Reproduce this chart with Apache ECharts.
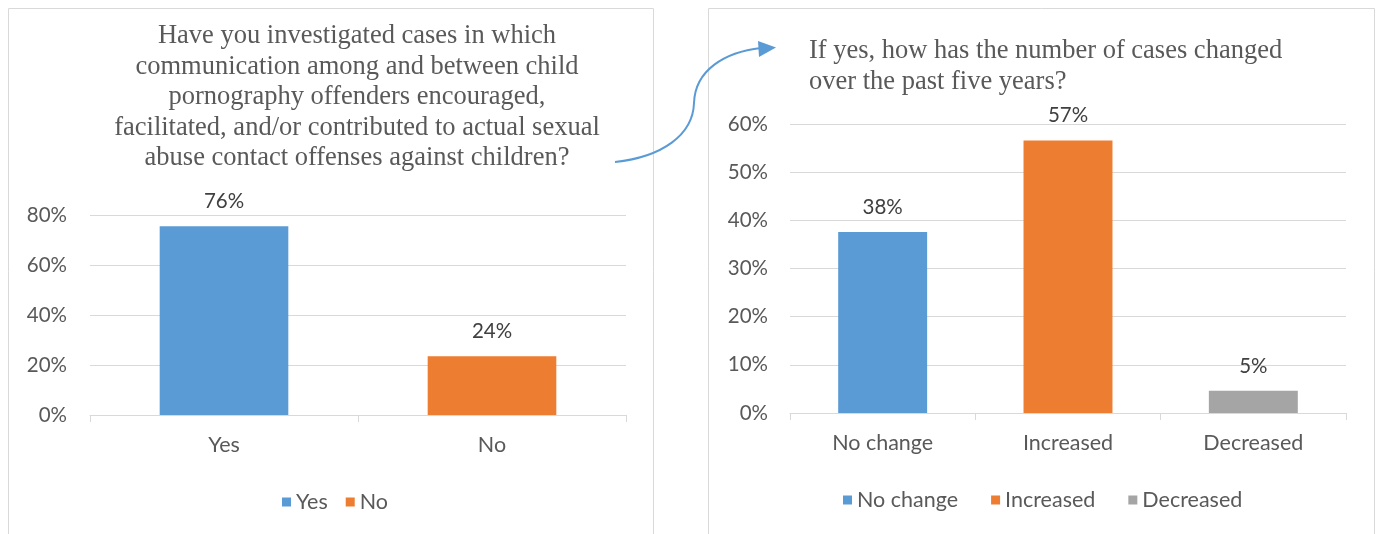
<!DOCTYPE html>
<html>
<head>
<meta charset="utf-8">
<script src="https://cdn.jsdelivr.net/npm/echarts@6/dist/echarts.min.js"></script>
<style>
html,body{margin:0;padding:0;background:#fff;}
#chart{width:1380px;height:534px;}
</style>
</head>
<body>
<div id="chart"></div>
<script>
// ---- Data ----
const leftTitle = "Have you investigated cases in which\ncommunication among and between child\npornography offenders encouraged,\nfacilitated, and/or contributed to actual sexual\nabuse contact offenses against children?";
const leftCategories = ['Yes', 'No'];
const leftValues = [75.5, 23.5];
const leftLabels = ['76%', '24%'];
const leftColors = ['#5B9BD5', '#ED7D31'];

const rightTitle = "If yes, how has the number of cases changed\nover the past five years?";
const rightCategories = ['No change', 'Increased', 'Decreased'];
const rightValues = [37.6, 56.6, 4.6];
const rightLabels = ['38%', '57%', '5%'];
const rightColors = ['#5B9BD5', '#ED7D31', '#A5A5A5'];

const FONT = 'Lato, "Open Sans", sans-serif';
const SERIF = '"Liberation Serif", "DejaVu Serif", serif';

function buildSeries(cats, vals, labels, colors, gridIdx) {
  return cats.map((c, i) => ({
    name: c,
    type: 'bar',
    xAxisIndex: gridIdx,
    yAxisIndex: gridIdx,
    barGap: '-100%',
    barWidth: '48%',
    itemStyle: { color: colors[i] },
    label: {
      show: true,
      position: 'top',
      distance: 14,
      color: '#404040',
      fontFamily: FONT,
      fontSize: 20.5,
      formatter: () => labels[i]
    },
    data: cats.map((_, j) => (j === i ? vals[i] : '-'))
  }));
}

const chart = echarts.init(document.getElementById('chart'));
const axisLabelStyle = { color: '#595959', fontFamily: FONT, fontSize: 21.5 };
const yLabelStyle = { color: '#595959', fontFamily: FONT, fontSize: 20.5 };
const legendText = { color: '#595959', fontFamily: FONT, fontSize: 21.5 };

chart.setOption({
  animation: false,
  title: [
    {
      text: leftTitle,
      left: 352, top: 16, textAlign: 'center',
      textStyle: { fontFamily: SERIF, fontSize: 26.5, fontWeight: 'normal', color: '#595959', lineHeight: 30.5, align: 'center' }
    },
    {
      text: rightTitle,
      left: 804, top: 31,
      textStyle: { fontFamily: SERIF, fontSize: 26.5, fontWeight: 'normal', color: '#595959', lineHeight: 31 }
    }
  ],
  legend: [
    {
      data: leftCategories, left: 277, top: 486,
      itemWidth: 9, itemHeight: 9, itemGap: 18, icon: 'rect',
      textStyle: legendText
    },
    {
      data: rightCategories, left: 838, top: 484,
      itemWidth: 9, itemHeight: 9, itemGap: 33, icon: 'rect',
      textStyle: legendText
    }
  ],
  grid: [
    { left: 90, right: 754, top: 215, bottom: 119 },
    { left: 790, right: 34, top: 124, bottom: 121 }
  ],
  xAxis: [
    {
      type: 'category', gridIndex: 0, data: leftCategories,
      axisLine: { lineStyle: { color: '#D9D9D9', width: 1 } },
      axisTick: { show: true, length: 7, lineStyle: { color: '#D9D9D9' } },
      axisLabel: Object.assign({ margin: 19 }, axisLabelStyle)
    },
    {
      type: 'category', gridIndex: 1, data: rightCategories,
      axisLine: { lineStyle: { color: '#D9D9D9', width: 1 } },
      axisTick: { show: true, length: 7, lineStyle: { color: '#D9D9D9' } },
      axisLabel: Object.assign({ margin: 19 }, axisLabelStyle)
    }
  ],
  yAxis: [
    {
      type: 'value', gridIndex: 0, min: 0, max: 80, interval: 20,
      axisLine: { show: false }, axisTick: { show: false },
      splitLine: { lineStyle: { color: '#D9D9D9', width: 1 } },
      axisLabel: Object.assign({ margin: 23, formatter: '{value}%' }, yLabelStyle)
    },
    {
      type: 'value', gridIndex: 1, min: 0, max: 60, interval: 10,
      axisLine: { show: false }, axisTick: { show: false },
      splitLine: { lineStyle: { color: '#D9D9D9', width: 1 } },
      axisLabel: Object.assign({ margin: 22, formatter: '{value}%' }, yLabelStyle)
    }
  ],
  series: buildSeries(leftCategories, leftValues, leftLabels, leftColors, 0)
    .concat(buildSeries(rightCategories, rightValues, rightLabels, rightColors, 1)),
  graphic: [
    { type: 'rect', shape: { x: 8.5, y: 8.5, width: 645, height: 560 }, style: { fill: 'none', stroke: '#D9D9D9', lineWidth: 1 }, z: -10 },
    { type: 'rect', shape: { x: 708.5, y: 8.5, width: 666, height: 560 }, style: { fill: 'none', stroke: '#D9D9D9', lineWidth: 1 }, z: -10 },
    {
      type: 'bezierCurve',
      shape: { x1: 615, y1: 162, cpx1: 662, cpy1: 157, cpx2: 693, cpy2: 135, x2: 694, y2: 103 },
      style: { stroke: '#5B9BD5', lineWidth: 2, fill: 'none' }
    },
    {
      type: 'bezierCurve',
      shape: { x1: 694, y1: 103, cpx1: 695, cpy1: 70, cpx2: 725, cpy2: 52, x2: 761, y2: 48 },
      style: { stroke: '#5B9BD5', lineWidth: 2, fill: 'none' }
    },
    {
      type: 'polygon',
      shape: { points: [[776, 47.5], [758, 41], [759, 57]] },
      style: { fill: '#5B9BD5' }
    }
  ]
});
</script>
</body>
</html>
